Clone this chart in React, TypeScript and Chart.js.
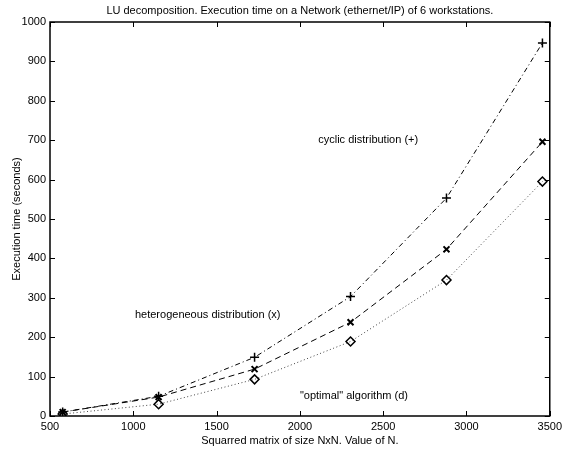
import React, { useEffect, useRef } from "react";
import { Chart, registerables } from "chart.js";

Chart.register(...registerables);

// ---- data ----
const nValues = [576, 1152, 1728, 2304, 2880, 3456];
const cyclicTimes = [10, 50, 149, 303, 553, 947];
const heteroTimes = [10, 48, 119, 238, 423, 696];
const optimalTimes = [5, 30, 93, 189, 345, 595];

const xTickValues = [500, 1000, 1500, 2000, 2500, 3000, 3500];
const yTickValues = [0, 100, 200, 300, 400, 500, 600, 700, 800, 900, 1000];

const titleText =
  "LU decomposition. Execution time on a Network (ethernet/IP) of 6 workstations.";
const xAxisLabel = "Squarred matrix of size NxN. Value of N.";
const yAxisLabel = "Execution time (seconds)";

const noteTexts = [
  "cyclic distribution (+)",
  "heterogeneous distribution (x)",
  "\"optimal\" algorithm (d)",
];
const noteX = [2110, 1010, 2000];
const noteY = [700, 256, 50];

const FONT_FAMILY = '"Liberation Sans", Arial, Helvetica, sans-serif';

const matlabFrame = {
  id: "matlabFrame",
  afterDraw(chart: any) {
    const { ctx, chartArea: a, scales } = chart;
    const xs = scales.x;
    const ys = scales.y;
    ctx.save();
    ctx.strokeStyle = "#000";
    ctx.lineWidth = 1;
    const tl = 5;
    ctx.beginPath();
    xs.ticks.forEach((t: any) => {
      const px = Math.round(xs.getPixelForValue(t.value)) + 0.5;
      ctx.moveTo(px, a.bottom);
      ctx.lineTo(px, a.bottom - tl);
      ctx.moveTo(px, a.top);
      ctx.lineTo(px, a.top + tl);
    });
    ys.ticks.forEach((t: any) => {
      const py = Math.round(ys.getPixelForValue(t.value)) + 0.5;
      ctx.moveTo(a.left, py);
      ctx.lineTo(a.left + tl, py);
      ctx.moveTo(a.right, py);
      ctx.lineTo(a.right - tl, py);
    });
    ctx.stroke();

    ctx.lineWidth = 1.5;
    ctx.strokeRect(a.left, a.top, a.right - a.left, a.bottom - a.top);

    ctx.fillStyle = "#000";
    ctx.font = `11px ${FONT_FAMILY}`;
    ctx.textAlign = "center";
    ctx.textBaseline = "middle";
    ctx.fillText(titleText, (a.left + a.right) / 2, 11);

    ctx.textAlign = "left";
    noteTexts.forEach((txt, i) => {
      ctx.fillText(txt, xs.getPixelForValue(noteX[i]), ys.getPixelForValue(noteY[i]));
    });
    ctx.restore();
  },
};

export default function App() {
  const canvasRef = useRef<HTMLCanvasElement | null>(null);

  useEffect(() => {
    document.body.style.margin = "0";
    const canvas = canvasRef.current;
    if (!canvas) return;

    const toPoints = (vals: number[]) => nValues.map((x, i) => ({ x, y: vals[i] }));

    const chart = new Chart(canvas, {
      type: "line",
      data: {
        datasets: [
          {
            label: "cyclic",
            data: toPoints(cyclicTimes),
            borderColor: "#000",
            borderWidth: 1,
            borderDash: [5, 3, 1, 3],
            pointStyle: "cross",
            pointRadius: 4.5,
            pointBorderWidth: 1.5,
            pointBorderColor: "#000",
            pointBackgroundColor: "transparent",
            backgroundColor: "transparent",
            fill: false,
            tension: 0,
          },
          {
            label: "heterogeneous",
            data: toPoints(heteroTimes),
            borderColor: "#000",
            borderWidth: 1,
            borderDash: [6, 4],
            pointStyle: "crossRot",
            pointRadius: 4.2,
            pointBorderWidth: 2,
            pointBorderColor: "#000",
            pointBackgroundColor: "transparent",
            backgroundColor: "transparent",
            fill: false,
            tension: 0,
          },
          {
            label: "optimal",
            data: toPoints(optimalTimes),
            borderColor: "#444",
            borderWidth: 1,
            borderDash: [1, 2.5],
            pointStyle: "rectRot",
            pointRadius: 4.5,
            pointBorderWidth: 1.5,
            pointBorderColor: "#000",
            pointBackgroundColor: "transparent",
            backgroundColor: "transparent",
            fill: false,
            tension: 0,
          },
        ],
      },
      options: {
        responsive: false,
        animation: false,
        events: [],
        layout: { padding: { top: 22, right: 14, left: 0, bottom: 0 } },
        plugins: {
          legend: { display: false },
          tooltip: { enabled: false },
          title: { display: false },
        },
        scales: {
          x: {
            type: "linear",
            min: 500,
            max: 3500,
            afterBuildTicks: (s: any) => {
              s.ticks = xTickValues.map((v) => ({ value: v }));
            },
            afterFit: (s: any) => {
              s.height = 35;
            },
            grid: { display: false, drawTicks: false },
            border: { display: false },
            ticks: {
              color: "#000",
              font: { family: FONT_FAMILY, size: 11 },
              padding: 4,
              maxRotation: 0,
              autoSkip: false,
              callback: (v: any) => String(v),
            },
            title: {
              display: true,
              text: xAxisLabel,
              color: "#000",
              font: { family: FONT_FAMILY, size: 11 },
              padding: { top: 0, bottom: 3 },
            },
          },
          y: {
            type: "linear",
            min: 0,
            max: 1000,
            afterBuildTicks: (s: any) => {
              s.ticks = yTickValues.map((v) => ({ value: v }));
            },
            afterFit: (s: any) => {
              s.width = 50;
            },
            grid: { display: false, drawTicks: false },
            border: { display: false },
            ticks: {
              color: "#000",
              font: { family: FONT_FAMILY, size: 11 },
              padding: 4,
              autoSkip: false,
              callback: (v: any) => String(v),
            },
            title: {
              display: true,
              text: yAxisLabel,
              color: "#000",
              font: { family: FONT_FAMILY, size: 11 },
              padding: { top: 10, bottom: 0 },
            },
          },
        },
      },
      plugins: [matlabFrame],
    });

    return () => {
      chart.destroy();
    };
  }, []);

  return (
    <div style={{ width: 566, height: 451, background: "#fff" }}>
      <canvas ref={canvasRef} width={566} height={451} style={{ display: "block" }} />
    </div>
  );
}
